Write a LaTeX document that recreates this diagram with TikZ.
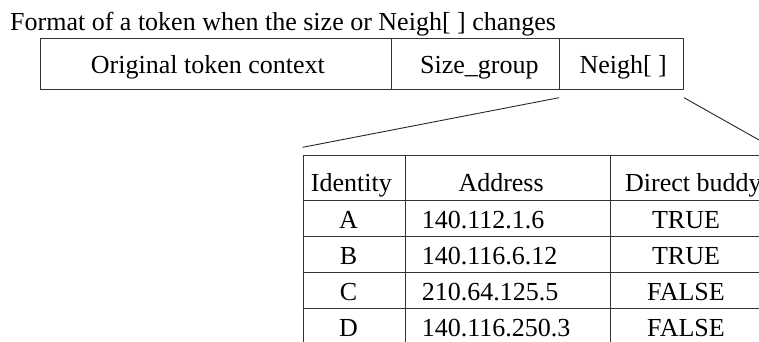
\documentclass[tikz,border=0pt]{standalone}
\usepackage{fontspec}
\setmainfont{Liberation Serif}
\begin{document}
\begin{tikzpicture}[x=1pt,y=-1pt,
  txt/.style={inner sep=0pt, font=\fontsize{26}{31}\selectfont, text=black},
  cell/.style={draw=black!80, line width=1pt, inner sep=0pt, anchor=north west},
  gridline/.style={draw=black!80, line width=1pt},
  zoomline/.style={draw=black!85, line width=0.9pt}]
\useasboundingbox (0,0) rectangle (759,342);
\clip (0,0) rectangle (759,342);
% title
\node[txt, anchor=base west] (title) at (10,31) {Format of a token when the size or Neigh[ ] changes};
% token format box
\node[cell, minimum width=351.5pt, minimum height=51pt] (orig) at (39.5,38) {};
\node[cell, minimum width=168pt, minimum height=51pt] (size) at (391,38) {};
\node[cell, minimum width=124pt, minimum height=51pt] (neigh) at (559,38) {};
\node[txt, anchor=base west] (torig) at (90.7,74) {Original token context};
\node[txt, anchor=base west] (tsize) at (420,74) {Size\_group};
\node[txt, anchor=base west] (tneigh) at (579.3,74) {Neigh[ ]};
% table
\node[cell, minimum width=468.3pt, minimum height=189.3pt] (tbl) at (302.7,155) {};
\draw[gridline] (405.7,155) -- (405.7,344.3);
\draw[gridline] (610.7,155) -- (610.7,344.3);
\foreach \yy in {200,236,272.3,308.3}{\draw[gridline] (302.7,\yy) -- (771,\yy);}
% header
\node[txt, anchor=base west] (hid) at (310.7,191) {Identity};
\node[txt, anchor=base west] (hadd) at (458.3,191) {Address};
\node[txt, anchor=base west] (hdb) at (625,191) {Direct buddy};
% rows
\node[txt, anchor=base] (ida) at (348.5,228) {A};
\node[txt, anchor=base] (idb) at (348.5,264) {B};
\node[txt, anchor=base] (idc) at (348.5,300.3) {C};
\node[txt, anchor=base] (idd) at (348.5,336.3) {D};
\node[txt, anchor=base west] (ada) at (421.7,228) {140.112.1.6};
\node[txt, anchor=base west] (adb) at (421.7,264) {140.116.6.12};
\node[txt, anchor=base west] (adc) at (421.7,300.3) {210.64.125.5};
\node[txt, anchor=base west] (add) at (421.7,336.3) {140.116.250.3};
\node[txt, anchor=base] (dba) at (686,228) {TRUE};
\node[txt, anchor=base] (dbb) at (686,264) {TRUE};
\node[txt, anchor=base] (dbc) at (686,300.3) {FALSE};
\node[txt, anchor=base] (dbd) at (686,336.3) {FALSE};
% zoom lines
\draw[zoomline] ([yshift=-7.7pt]neigh.south west) -- ([yshift=7.7pt]tbl.north west);
\draw[zoomline] ([yshift=-7.7pt]neigh.south east) -- ([yshift=7.7pt]tbl.north east);
\end{tikzpicture}
\end{document}
